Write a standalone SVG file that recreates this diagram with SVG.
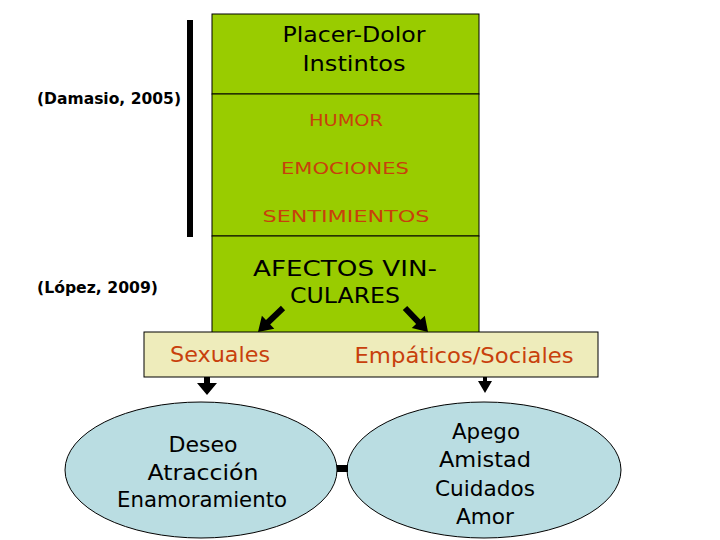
<svg xmlns="http://www.w3.org/2000/svg" width="720" height="540" viewBox="0 0 720 540">
<style>
text{font-family:"DejaVu Sans","Liberation Sans",sans-serif;text-anchor:middle}
.blk{fill:#000}
.org{fill:#C8400C}
.ref{font-weight:bold;font-size:15px;text-anchor:start}
.box{stroke:#000;stroke-width:1}
.ell{fill:#BADDE2;stroke:#000;stroke-width:1}
.arr{fill:#000;stroke:none}
</style>
<rect width="720" height="540" fill="#fff"/>
<g id="bar"><rect x="187" y="20" width="6" height="217" fill="#000"/></g>
<g id="refs">
<text class="ref blk" x="37" y="104" textLength="144" lengthAdjust="spacingAndGlyphs">(Damasio, 2005)</text>
<text class="ref blk" x="37" y="293" textLength="121" lengthAdjust="spacingAndGlyphs">(López, 2009)</text>
</g>
<g id="top">
<rect class="box" x="212" y="14" width="267" height="80" fill="#99CC00"/>
<text class="blk" x="354" y="42" font-size="21" textLength="143" lengthAdjust="spacingAndGlyphs">Placer-Dolor</text>
<text class="blk" x="354" y="71" font-size="21" textLength="103" lengthAdjust="spacingAndGlyphs">Instintos</text>
</g>
<g id="middle">
<rect class="box" x="212" y="94" width="267" height="142" fill="#99CC00"/>
<text class="org" x="346" y="126" font-size="16" textLength="74" lengthAdjust="spacingAndGlyphs">HUMOR</text>
<text class="org" x="345" y="174" font-size="16" textLength="128" lengthAdjust="spacingAndGlyphs">EMOCIONES</text>
<text class="org" x="346" y="222" font-size="16" textLength="167" lengthAdjust="spacingAndGlyphs">SENTIMIENTOS</text>
</g>
<g id="afectos">
<rect class="box" x="212" y="236" width="267" height="100" fill="#99CC00"/>
<text class="blk" x="345" y="276" font-size="22" textLength="184" lengthAdjust="spacingAndGlyphs">AFECTOS VIN-</text>
<text class="blk" x="345" y="303" font-size="22" textLength="110" lengthAdjust="spacingAndGlyphs">CULARES</text>
</g>
<g id="tipos">
<rect class="box" x="144" y="332" width="454" height="45" fill="#EEECBB"/>
<text class="org" x="220" y="362" font-size="21" textLength="100" lengthAdjust="spacingAndGlyphs">Sexuales</text>
<text class="org" x="464" y="363" font-size="21" textLength="219" lengthAdjust="spacingAndGlyphs">Empáticos/Sociales</text>
</g>
<g id="sexual">
<ellipse class="ell" cx="201" cy="470" rx="136" ry="68"/>
<text class="blk" x="203" y="452" font-size="21" textLength="69" lengthAdjust="spacingAndGlyphs">Deseo</text>
<text class="blk" x="203" y="480" font-size="21" textLength="111" lengthAdjust="spacingAndGlyphs">Atracción</text>
<text class="blk" x="202" y="507" font-size="21" textLength="170" lengthAdjust="spacingAndGlyphs">Enamoramiento</text>
</g>
<g id="empatico">
<ellipse class="ell" cx="484" cy="470" rx="137" ry="68"/>
<text class="blk" x="486" y="439" font-size="21" textLength="68" lengthAdjust="spacingAndGlyphs">Apego</text>
<text class="blk" x="485" y="467" font-size="21" textLength="92" lengthAdjust="spacingAndGlyphs">Amistad</text>
<text class="blk" x="485" y="496" font-size="21" textLength="100" lengthAdjust="spacingAndGlyphs">Cuidados</text>
<text class="blk" x="485" y="524" font-size="21" textLength="58" lengthAdjust="spacingAndGlyphs">Amor</text>
</g>
<g id="connectors">
<polygon class="arr" points="285.1,310.2 270.2,324.5 274.3,328.8 258,332 261.9,315.8 266,320.1 280.9,305.8"/>
<polygon class="arr" points="402.8,310.1 416.1,324 411.8,328.1 428,332 424.8,315.7 420.5,319.8 407.2,305.9"/>
<polygon class="arr" points="204,377 210,377 210,383 217,383 207,395 197,383 204,383"/>
<polygon class="arr" points="483,377 487,377 487,381 492,381 485,393 478,381 483,381"/>
<rect x="337" y="465" width="11" height="7" fill="#000"/>
</g>
</svg>
